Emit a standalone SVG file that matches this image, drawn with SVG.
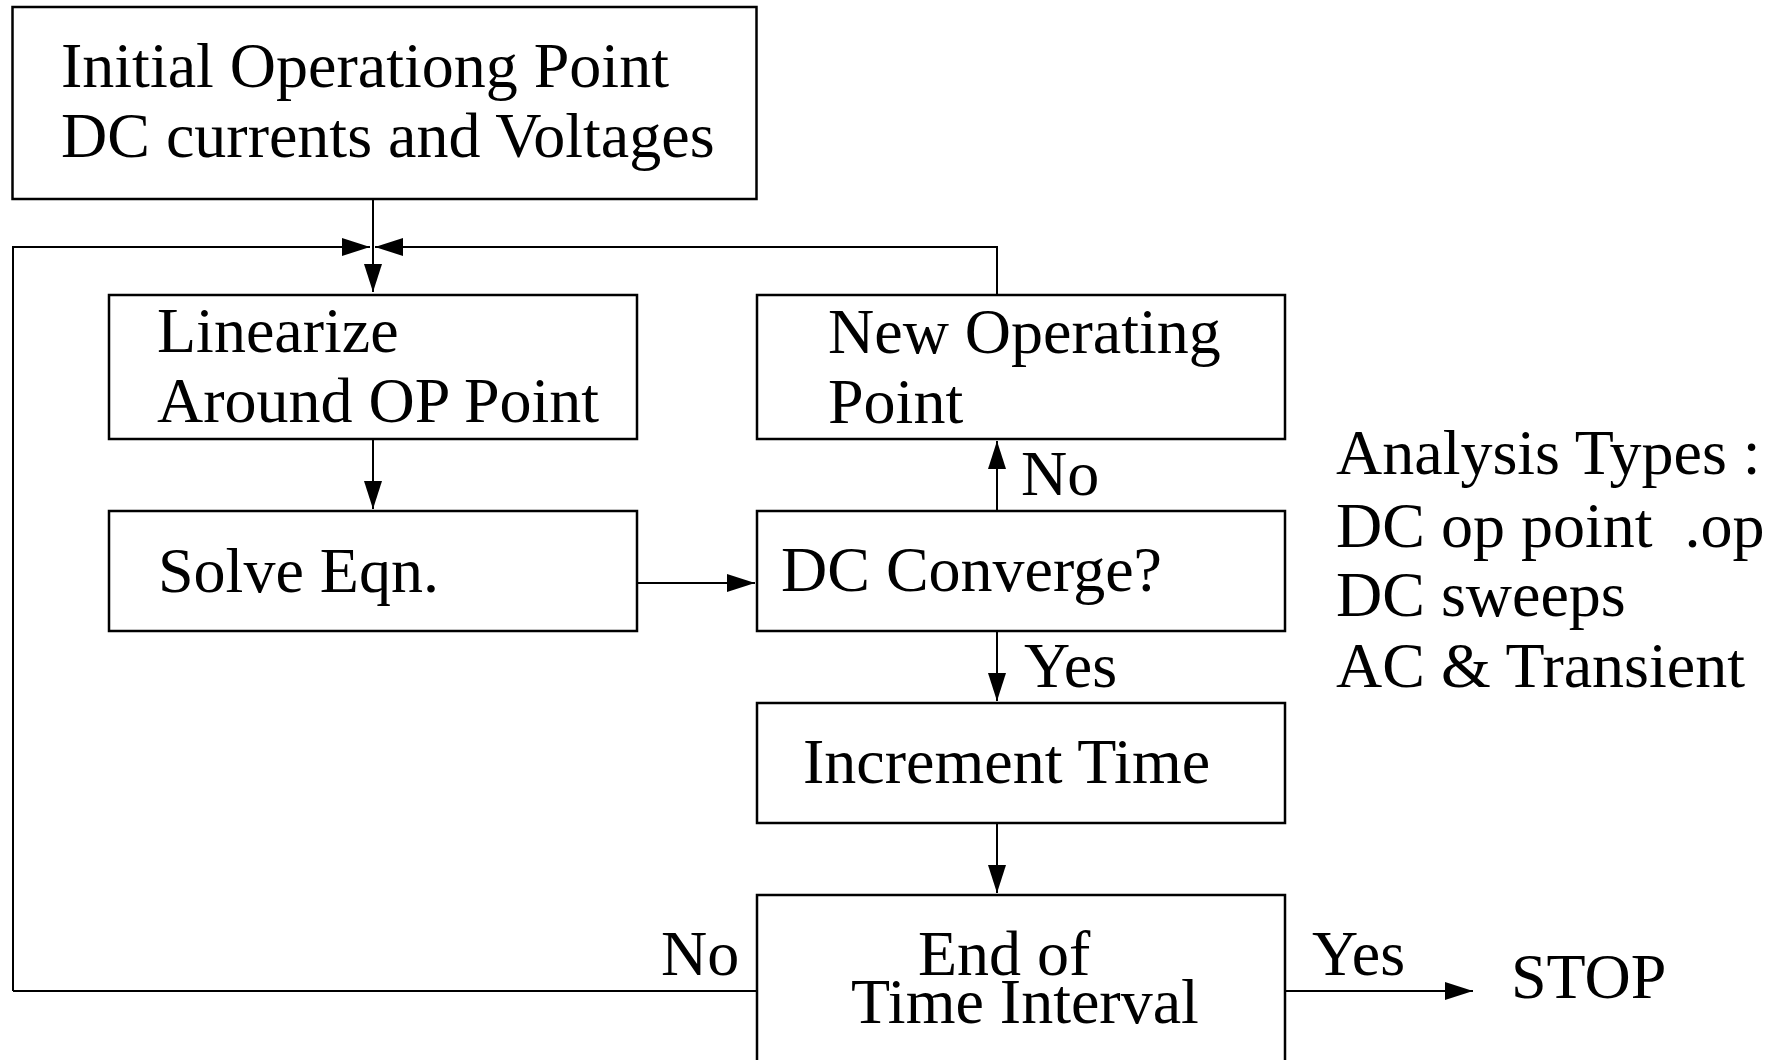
<svg xmlns="http://www.w3.org/2000/svg" width="1782" height="1060" viewBox="0 0 1782 1060">
<style>
.box{fill:#fff;stroke:#000;stroke-width:2.5}
.ln{fill:none;stroke:#000;stroke-width:2}
.t{font-family:"Liberation Serif","Times New Roman",serif;font-size:64px;fill:#000;white-space:pre}
</style>
<defs>
<marker id="ah" markerUnits="userSpaceOnUse" viewBox="0 0 28 18" refX="28" refY="9" markerWidth="28" markerHeight="18" orient="auto">
<path d="M0,0 L28,9 L0,18 Z" fill="#000"/>
</marker>
</defs>
<rect width="1782" height="1060" fill="#fff"/>
<g id="connectors">
<path class="ln" d="M373,199 V292" marker-end="url(#ah)"/>
<path class="ln" d="M13,991 V247 H370" marker-end="url(#ah)"/>
<path class="ln" d="M997,295 V247 H375" marker-end="url(#ah)"/>
<path class="ln" d="M373,439 V509" marker-end="url(#ah)"/>
<path class="ln" d="M637,583 H755" marker-end="url(#ah)"/>
<path class="ln" d="M997,511 V441" marker-end="url(#ah)"/>
<path class="ln" d="M997,631 V701" marker-end="url(#ah)"/>
<path class="ln" d="M997,823 V893" marker-end="url(#ah)"/>
<path class="ln" d="M757,991 H13"/>
<path class="ln" d="M1285,991 H1473" marker-end="url(#ah)"/>
<text class="t" x="1021" y="495">No</text>
<text class="t" x="1024" y="687">Yes</text>
<text class="t" x="661" y="975">No</text>
<text class="t" x="1312" y="975">Yes</text>
</g>
<g id="initial">
<rect class="box" x="12.5" y="7" width="744" height="192"/>
<text class="t" x="61" y="87">Initial Operationg Point</text>
<text class="t" x="61" y="157">DC currents and Voltages</text>
</g>
<g id="linearize">
<rect class="box" x="109" y="295" width="528" height="144"/>
<text class="t" x="157" y="352">Linearize</text>
<text class="t" x="157" y="422">Around OP Point</text>
</g>
<g id="solve">
<rect class="box" x="109" y="511" width="528" height="120"/>
<text class="t" x="158" y="592">Solve Eqn.</text>
</g>
<g id="newop">
<rect class="box" x="757" y="295" width="528" height="144"/>
<text class="t" x="828" y="353">New Operating</text>
<text class="t" x="828" y="423">Point</text>
</g>
<g id="converge">
<rect class="box" x="757" y="511" width="528" height="120"/>
<text class="t" x="781" y="591">DC Converge?</text>
</g>
<g id="increment">
<rect class="box" x="757" y="703" width="528" height="120"/>
<text class="t" x="803" y="783">Increment Time</text>
</g>
<g id="endinterval">
<rect class="box" x="757" y="895" width="528" height="180"/>
<text class="t" x="918" y="975">End of</text>
<text class="t" x="851" y="1023">Time Interval</text>
</g>
<g id="stop">
<text class="t" x="1511" y="998">STOP</text>
</g>
<g id="analysis">
<text class="t" x="1336" y="474">Analysis Types :</text>
<text class="t" x="1336" y="547">DC op point  .op</text>
<text class="t" x="1336" y="616">DC sweeps</text>
<text class="t" x="1336" y="687">AC &amp; Transient</text>
</g>
</svg>
